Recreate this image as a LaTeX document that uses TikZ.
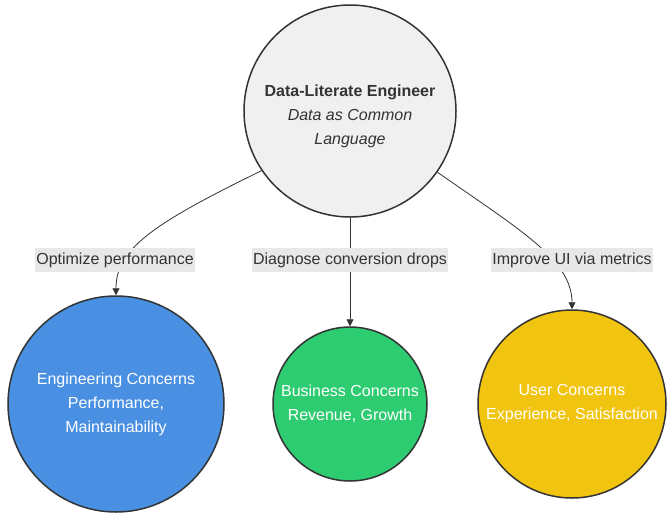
\documentclass[tikz,border=0pt]{standalone}
\usepackage{fontspec}
\setmainfont{Liberation Sans}
\usetikzlibrary{arrows.meta}

\definecolor{ink}{HTML}{333333}
\definecolor{coregray}{HTML}{F0F0F0}
\definecolor{labelgray}{HTML}{E8E8E8}
\definecolor{engblue}{HTML}{4A90E2}
\definecolor{busgreen}{HTML}{2ECC71}
\definecolor{usryellow}{HTML}{F1C40F}

\tikzset{
    concept/.style={circle, draw=ink, line width=1.5pt, align=center, inner sep=0pt,
        font=\fontsize{16}{24}\selectfont},
    conceptext/.style={align=center, inner sep=0pt, font=\fontsize{16}{24}\selectfont},
    link/.style={draw=ink, line width=0.8pt, -{Triangle[length=7pt,width=7pt]}},
    edgelabel/.style={fill=labelgray, text=ink, inner xsep=1pt, inner ysep=0pt,
        minimum height=24pt, font=\fontsize{16}{19}\selectfont}
}

\begin{document}
\begin{tikzpicture}[x=1pt,y=-1pt]
    \useasboundingbox (0,0) rectangle (671,520);

    \node[concept, fill=coregray, minimum size=212pt] at (350,111) (core) {};
    \node[conceptext, text=ink] at ([yshift=-5pt]core.center) (coretext)
        {\textbf{Data-Literate Engineer}\\\textit{Data as Common}\\\textit{Language}};

    \node[concept, fill=engblue, text=white, minimum size=216pt] at (116,404) (eng)
        {Engineering Concerns\\Performance,\\Maintainability};
    \node[concept, fill=busgreen, text=white, minimum size=154pt] at (350,404) (bus)
        {Business Concerns\\Revenue, Growth};
    \node[concept, fill=usryellow, text=white, minimum size=188pt] at (572,404) (usr)
        {User Concerns\\Experience, Satisfaction};

    \draw[link] (core.214) .. controls (150,225) and (116,250) .. (eng.north);
    \draw[link] (core.south) -- (bus.north);
    \draw[link] (core.325) .. controls (520,230) and (572,260) .. (usr.north);

    \node[edgelabel] at (115,260) (perf) {Optimize performance};
    \node[edgelabel] at (350,260) (conv) {Diagnose conversion drops};
    \node[edgelabel] at (572,260) (ui) {Improve UI via metrics};
\end{tikzpicture}
\end{document}
